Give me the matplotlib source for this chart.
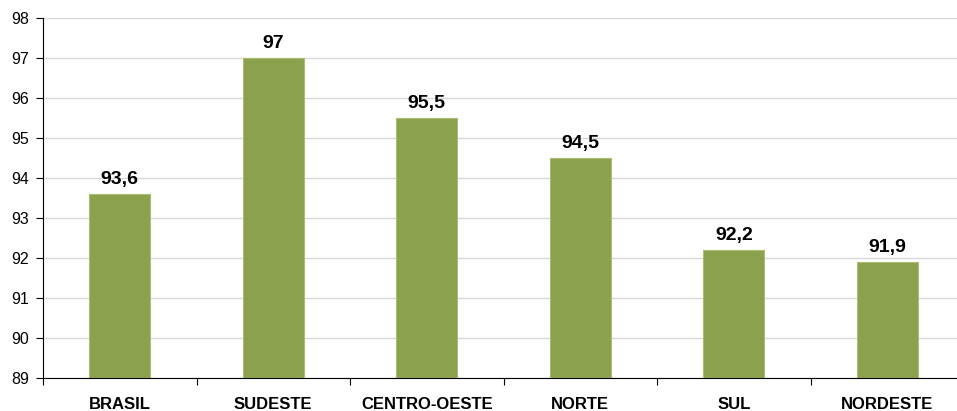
import numpy as np
import matplotlib.pyplot as plt

regioes = ["BRASIL", "SUDESTE", "CENTRO-OESTE", "NORTE", "SUL", "NORDESTE"]
valores = [93.6, 97, 95.5, 94.5, 92.2, 91.9]
rotulos = ["93,6", "97", "95,5", "94,5", "92,2", "91,9"]
yticks = np.arange(89, 99, 1)

plt.rcParams['font.family'] = ['Liberation Sans', 'DejaVu Sans']

fig = plt.figure(figsize=(9.57, 4.11), dpi=100)
ax = fig.add_axes([43/957, 33/411, 921/957, 360/411])

x = np.arange(len(regioes))
ax.bar(x, valores - yticks[0], bottom=yticks[0], width=0.40, color="#8BA14D",
       edgecolor="#A9BE72", linewidth=0.8, zorder=3)

for xi, v, r in zip(x, valores, rotulos):
    ax.text(xi, v + 0.15, r, ha="center", va="bottom", fontsize=14,
            fontweight="bold", color="black")

ax.set_xlim(-0.5, len(regioes) - 0.5)
ax.set_ylim(89, 98)
ax.set_yticks(yticks)
ax.set_yticklabels([str(t) for t in yticks], fontsize=11.5)
ax.yaxis.grid(True, color="#D9D9D9", linewidth=1, zorder=0)

ax.set_xticks(np.arange(-0.5, len(regioes), 1))
ax.set_xticklabels([])
ax.set_xticks(x, minor=True)
ax.set_xticklabels(regioes, minor=True, fontsize=12, fontweight="bold")
ax.tick_params(axis="x", which="minor", length=0, pad=14)
ax.tick_params(axis="x", which="major", length=5, direction="out", color="black")
ax.tick_params(axis="y", length=5, direction="out", color="black", pad=5)

for s in ["top", "right"]:
    ax.spines[s].set_visible(False)
ax.spines["left"].set_color("black")
ax.spines["bottom"].set_color("black")

fig.savefig("out.png", dpi=100)
